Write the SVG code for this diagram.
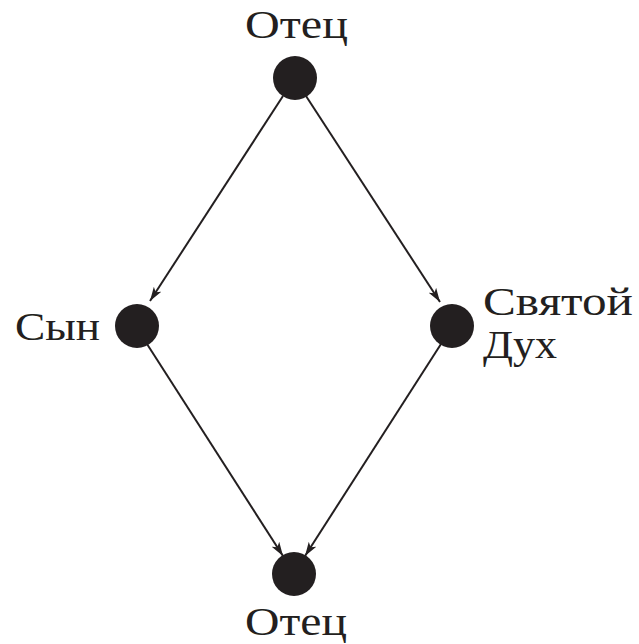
<svg xmlns="http://www.w3.org/2000/svg" width="639" height="644" viewBox="0 0 639 644">
<defs>
<style>
.lbl{font-family:"Liberation Serif","DejaVu Serif",serif;font-size:39px;fill:#231f20}
.node{fill:#231f20}
.edge{stroke:#231f20;stroke-width:2;fill:none}
</style>
<marker id="ah" viewBox="0 0 14 9" refX="14" refY="4.5" markerWidth="14" markerHeight="9" markerUnits="userSpaceOnUse" orient="auto">
<path d="M0,0 L14,4.5 L0,9 L3.5,4.5 Z" fill="#231f20"/>
</marker>
</defs>
<rect width="639" height="644" fill="#ffffff"/>
<g id="connectors">
<line class="edge" x1="283" y1="96" x2="150" y2="301" marker-end="url(#ah)"/>
<line class="edge" x1="306" y1="96" x2="440" y2="302" marker-end="url(#ah)"/>
<line class="edge" x1="147" y1="344" x2="283" y2="556" marker-end="url(#ah)"/>
<line class="edge" x1="441" y1="344" x2="305" y2="556" marker-end="url(#ah)"/>
</g>
<g id="father-top">
<circle class="node" cx="295" cy="78" r="22"/>
<text class="lbl" x="245" y="38" textLength="103" lengthAdjust="spacingAndGlyphs">Отец</text>
</g>
<g id="son">
<circle class="node" cx="137" cy="326" r="22"/>
<text class="lbl" x="15" y="340" textLength="85" lengthAdjust="spacingAndGlyphs">Сын</text>
</g>
<g id="spirit">
<circle class="node" cx="452" cy="326" r="22"/>
<text class="lbl" x="483" y="315" textLength="150" lengthAdjust="spacingAndGlyphs">Святой</text>
<text class="lbl" x="483" y="358" textLength="74" lengthAdjust="spacingAndGlyphs">Дух</text>
</g>
<g id="father-bottom">
<circle class="node" cx="294" cy="574" r="22"/>
<text class="lbl" x="245" y="635" textLength="102" lengthAdjust="spacingAndGlyphs">Отец</text>
</g>
</svg>
